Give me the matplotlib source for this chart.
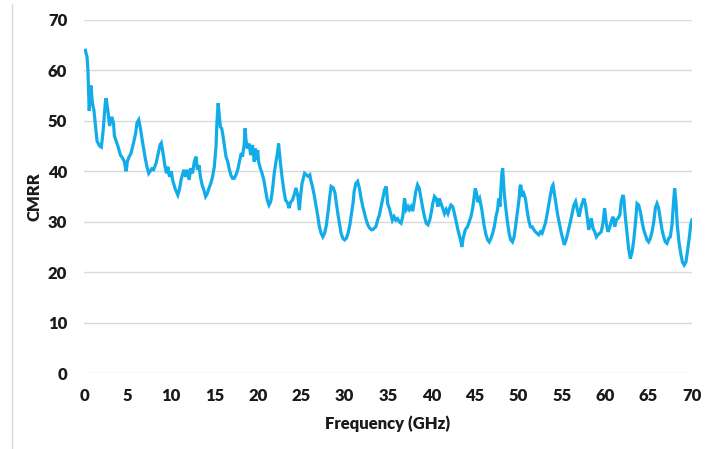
import matplotlib
matplotlib.use("Agg")
import matplotlib.pyplot as plt
from matplotlib.lines import Line2D

freq_ghz = [
    0.15, 0.35, 0.45, 0.6, 0.8, 0.97, 1.15, 1.3, 1.5, 1.8, 2.0, 2.2, 2.45, 2.55, 2.75, 2.95,
    3.2, 3.4, 3.5, 3.7, 3.9, 4.2, 4.45, 4.65, 4.85, 5.0, 5.2, 5.4, 5.7, 5.95, 6.1, 6.3,
    6.5, 6.7, 6.9, 7.05, 7.25, 7.45, 7.6, 7.8, 8.0, 8.3, 8.55, 8.75, 8.9, 9.1, 9.3, 9.5,
    9.65, 9.85, 10.05, 10.2, 10.5, 10.8, 11.0, 11.2,
    11.5, 11.7, 11.9, 12.1, 12.3, 12.5, 12.7, 12.9, 13.05, 13.25, 13.4, 13.6, 13.8, 14.0,
    14.2, 14.4, 14.6, 14.8, 15.0, 15.2, 15.3, 15.45, 15.55, 15.7, 15.85, 15.95, 16.15, 16.35,
    16.55, 16.7, 16.9, 17.1, 17.3, 17.5, 17.7, 17.9, 18.1, 18.25, 18.45, 18.55, 18.65, 18.8,
    19.0, 19.2, 19.4, 19.6, 19.75, 19.85, 20.0, 20.1, 20.3, 20.5, 20.7, 20.9, 21.1, 21.3,
    21.5, 21.7, 21.9, 22.1, 22.3, 22.4, 22.6, 22.8, 23.0, 23.2,
    23.45, 23.6, 23.8, 24.0, 24.2, 24.4, 24.6, 24.8, 24.9, 25.1, 25.4, 25.6, 25.8, 26.0,
    26.1, 26.3, 26.5, 26.7, 26.9, 27.1, 27.3, 27.5, 27.7, 27.9, 28.1, 28.3, 28.45, 28.7,
    28.9, 29.05, 29.25, 29.45, 29.6, 29.8, 30.0, 30.2, 30.4, 30.6, 30.8, 31.0, 31.1, 31.3,
    31.5, 31.7, 31.9, 32.1, 32.3, 32.5, 32.7, 32.9, 33.1, 33.3, 33.4, 33.6, 33.8, 34.0,
    34.2, 34.4, 34.6, 34.8,
    34.96, 35.15, 35.35, 35.5, 35.7, 35.9, 36.1, 36.3, 36.5, 36.7, 36.9, 37.1, 37.3, 37.45,
    37.65, 37.85, 38.05, 38.2, 38.4, 38.6, 38.8, 39.0, 39.2, 39.4, 39.6, 39.8, 40.0, 40.15,
    40.35, 40.55, 40.75, 40.9, 41.1, 41.3, 41.5, 41.7, 41.9, 42.1, 42.25, 42.45, 42.65, 42.85,
    43.05, 43.2, 43.4, 43.5, 43.65, 43.9, 44.15, 44.35, 44.55, 44.75, 44.95, 45.05, 45.2, 45.35,
    45.55, 45.8, 46.05,
    46.28, 46.47, 46.66, 46.86, 47.05, 47.24, 47.43, 47.62, 47.74, 47.9, 48.0, 48.1, 48.2, 48.3,
    48.4, 48.56, 48.75, 48.94, 49.13, 49.33, 49.52, 49.71, 49.9, 50.1, 50.2, 50.3, 50.44, 50.63,
    50.82, 51.0, 51.2, 51.4, 51.6, 51.8, 51.97, 52.16, 52.35, 52.55, 52.74, 52.93, 53.12, 53.3,
    53.5, 53.7, 53.9, 54.0, 54.15, 54.35, 54.54, 54.73, 54.96, 55.15, 55.3, 55.5, 55.73, 56.0,
    56.2, 56.4, 56.6, 56.8, 57.0, 57.2, 57.35, 57.55, 57.74, 57.93,
    58.1, 58.2, 58.4, 58.6, 58.8, 59.0, 59.17, 59.36, 59.55, 59.75, 59.94, 60.13, 60.32, 60.5,
    60.7, 60.9, 61.1, 61.3, 61.5, 61.7, 61.85, 62.05, 62.15, 62.3, 62.5, 62.7, 62.9, 63.1,
    63.3, 63.5, 63.67, 63.86, 64.05, 64.25, 64.44, 64.63, 64.82, 65.0, 65.2, 65.4, 65.6, 65.78,
    65.97, 66.16, 66.36, 66.55, 66.74, 66.93, 67.12, 67.32, 67.5, 67.7, 67.85, 68.0, 68.15, 68.3,
    68.5, 68.7, 68.9, 69.1, 69.3, 69.5, 69.7, 69.85, 70.0,
]

cmrr = [
    64.0, 62.7, 60.0, 52.0, 57.0, 53.5, 52.0, 49.5, 46.0, 45.0, 44.8, 48.0, 53.5, 54.5, 52.0, 49.0,
    50.8, 49.5, 47.0, 46.0, 45.0, 43.2, 42.6, 41.9, 40.0, 42.0, 42.9, 43.5, 45.6, 47.6, 49.6, 50.2,
    48.5, 46.2, 44.2, 42.6, 40.9, 39.6, 40.0, 40.5, 40.3, 41.6, 43.6, 45.2, 45.6, 43.6, 41.2, 39.6,
    40.9, 38.9, 40.0, 38.3, 36.5, 35.3, 36.5, 38.5,
    40.3, 38.9, 40.3, 38.3, 40.6, 39.6, 41.9, 42.9, 40.3, 41.2, 38.9, 37.3, 36.3, 35.0,
    35.6, 36.7, 37.6, 38.9, 40.9, 44.9, 49.5, 53.5, 51.5, 48.8, 48.5, 47.6, 45.2, 42.9,
    41.9, 40.6, 39.3, 38.6, 38.6, 39.3, 40.3, 41.9, 43.6, 42.9, 45.5, 48.5, 46.2, 44.5,
    45.5, 43.2, 45.2, 41.9, 44.5, 42.2, 44.2, 41.9, 40.6, 39.6, 38.3, 36.3, 34.3, 33.3,
    34.0, 36.3, 39.6, 41.9, 43.9, 45.5, 41.9, 38.9, 36.3, 34.3,
    33.7, 32.7, 33.9, 34.3, 35.3, 36.7, 35.3, 32.3, 34.6, 37.6, 39.6, 39.3, 39.0, 39.3,
    38.3, 37.0, 35.3, 33.3, 31.3, 29.0, 27.7, 27.0, 27.7, 29.3, 32.0, 35.0, 37.0, 36.7,
    35.7, 33.7, 31.3, 29.3, 27.7, 26.7, 26.4, 26.7, 27.7, 29.3, 31.6, 34.0, 36.0, 37.6,
    38.0, 36.7, 34.6, 33.0, 31.6, 30.3, 29.3, 28.7, 28.4, 28.5, 28.7, 29.0, 30.3, 31.3,
    33.0, 34.6, 36.3, 37.0,
    33.6, 32.7, 31.3, 30.3, 31.0, 30.3, 30.6, 30.0, 29.7, 31.0, 34.6, 32.4, 33.0, 32.4,
    33.0, 32.1, 34.3, 36.0, 37.3, 36.6, 34.6, 32.7, 31.0, 29.7, 29.4, 30.3, 32.0, 33.6,
    35.0, 34.6, 33.0, 34.6, 33.6, 32.7, 31.6, 32.4, 31.6, 32.7, 33.3, 33.0, 31.6, 30.0,
    28.4, 27.4, 26.0, 25.0, 26.7, 28.4, 29.0, 30.0, 31.0, 32.7, 35.3, 36.6, 35.6, 33.9,
    34.6, 32.4, 29.4,
    27.4, 26.4, 26.0, 26.7, 27.7, 29.0, 31.0, 32.4, 34.6, 33.0, 36.6, 39.3, 40.6, 37.9,
    35.3, 32.7, 30.0, 27.7, 26.4, 26.0, 27.0, 29.4, 32.0, 34.6, 37.0, 37.3, 35.0, 35.6,
    34.6, 32.4, 30.3, 29.0, 29.0, 28.4, 28.0, 27.7, 27.4, 28.0, 27.7, 28.7, 29.7, 31.3,
    33.3, 35.3, 37.0, 37.3, 35.6, 33.3, 31.3, 29.7, 27.7, 26.4, 25.4, 26.4, 28.0, 30.0,
    31.6, 33.3, 34.0, 32.4, 31.0, 32.7, 33.6, 34.6, 33.3, 31.0,
    28.4, 29.0, 30.7, 28.7, 28.0, 27.0, 27.4, 27.7, 28.0, 29.7, 32.7, 29.7, 28.0, 28.7,
    30.0, 31.0, 29.0, 30.4, 30.7, 31.4, 34.0, 35.3, 34.6, 31.4, 28.0, 24.7, 22.7, 24.0,
    26.4, 30.0, 33.6, 33.3, 32.0, 30.0, 28.4, 27.4, 26.4, 26.0, 26.7, 28.0, 30.0, 32.7,
    33.6, 32.7, 30.4, 28.4, 27.0, 26.0, 25.7, 26.7, 27.0, 29.4, 33.3, 36.6, 34.0, 29.4,
    26.0, 23.7, 22.0, 21.4, 22.0, 24.4, 27.0, 29.4, 30.4,
]

x_ticks = [0, 5, 10, 15, 20, 25, 30, 35, 40, 45, 50, 55, 60, 65, 70]
y_ticks = [0, 10, 20, 30, 40, 50, 60, 70]
x_label = "Frequency (GHz)"
y_label = "CMRR"

plt.rcParams['font.family'] = ['Lato', 'DejaVu Sans']

fig = plt.figure(figsize=(7.2, 4.49), dpi=100)
ax = fig.add_axes([84/720, 1 - 373/449, (692 - 84)/720, (373 - 20)/449])

ax.plot(freq_ghz, cmrr, color='#12ADE8', linewidth=2.3, solid_joinstyle='miter')

ax.set_xlim(0, 70)
ax.set_ylim(0, 70)
ax.set_xticks(x_ticks)
ax.set_yticks(y_ticks)
ax.tick_params(axis='both', length=0, labelsize=12, colors='#1a1a1a')
ax.tick_params(axis='x', pad=11)
ax.tick_params(axis='y', pad=12)
for lbl in ax.get_xticklabels() + ax.get_yticklabels():
    lbl.set_fontweight('heavy')
ax.grid(True, axis='y', color='#D9D9D9', linewidth=1.0)
ax.set_axisbelow(True)
for s in ax.spines.values():
    s.set_visible(False)

ax.set_xlabel(x_label, fontsize=12, fontweight='heavy', color='#1a1a1a', labelpad=8)
ax.set_ylabel(y_label, fontsize=12, fontweight='heavy', color='#1a1a1a', labelpad=4)

fig.add_artist(Line2D([12/720, 12/720], [0, 1 - 4/449], color='#D9D9D9', linewidth=1.0))

fig.savefig('out.png', dpi=100)
